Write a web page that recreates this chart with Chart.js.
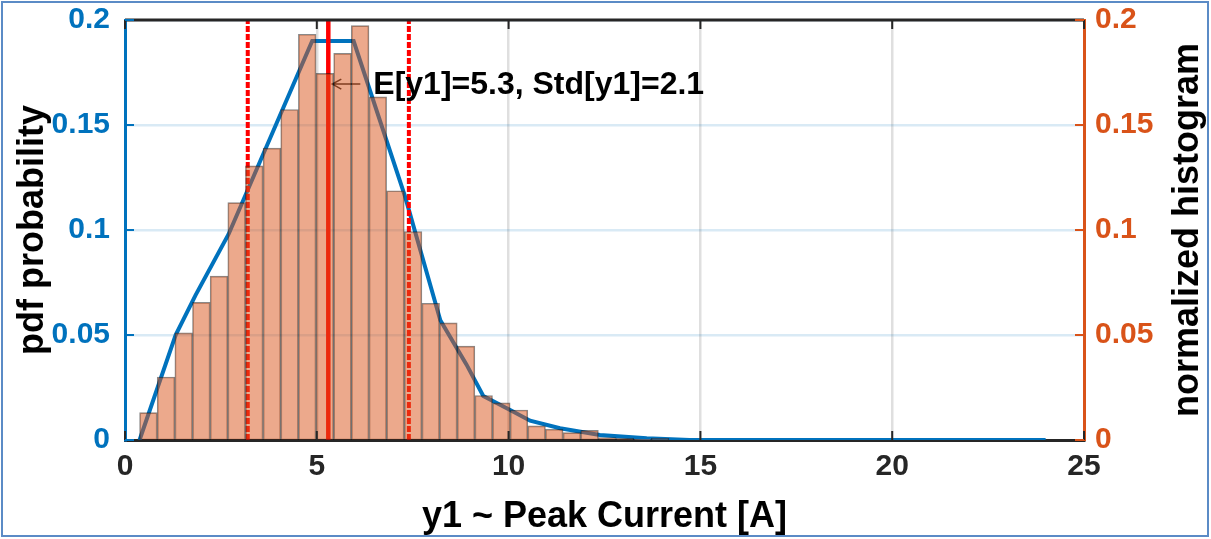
<!DOCTYPE html>
<html>
<head>
<meta charset="utf-8">
<script src="https://cdn.jsdelivr.net/npm/chart.js@4.4.1/dist/chart.umd.min.js"></script>
<style>
  html, body { margin: 0; padding: 0; background: #ffffff; }
  canvas { display: block; }
</style>
</head>
<body>
<canvas id="chart" width="1211" height="539"></canvas>
<script>
// Estimated probability density of the peak current (piecewise-linear curve)
const pdfX = [0.38, 1.32, 1.84, 2.70, 4.88, 5.96, 7.30, 8.22, 8.90, 9.34, 10.04, 10.56, 11.34, 12.38, 13.60, 14.72, 24.0];
const pdfY = [0, 0.050, 0.069, 0.098, 0.190, 0.190, 0.116, 0.057, 0.036, 0.021, 0.0143, 0.0092, 0.0056, 0.0024, 0.0008, 0, 0];

// Normalized histogram of the sampled peak currents (bin centres and heights)
const binCenters = [0.61, 1.07, 1.53, 1.99, 2.45, 2.91, 3.37, 3.83, 4.29, 4.75,
                    5.21, 5.67, 6.13, 6.59, 7.05, 7.51, 7.97, 8.43, 8.89, 9.35,
                    9.81, 10.27, 10.73, 11.19, 11.65, 12.11, 12.57, 13.03, 13.49, 13.95];
const histValues = [0.013, 0.030, 0.051, 0.0655, 0.078, 0.113, 0.1305, 0.139, 0.1574, 0.1932,
                    0.1746, 0.1841, 0.1973, 0.1634, 0.1187, 0.0993, 0.0651, 0.0558, 0.0447, 0.0212,
                    0.0177, 0.0143, 0.0067, 0.0051, 0.0035, 0.0046, 0.0011, 0.0008, 0.0003, 0.0008];

// Sample statistics
const meanY1 = 5.3;
const stdY1 = 2.1;

// Axis ticks and titles
const xTicks = [0, 5, 10, 15, 20, 25];
const yTicks = [0, 0.05, 0.1, 0.15, 0.2];
const xTitle = 'y1 ~ Peak Current [A]';
const yLeftTitle = 'pdf probability';
const yRightTitle = 'normalized histogram';

const BLUE = '#0072BD';
const ORANGE = '#D95319';
const DARK = '#262626';
const FONT = '"Liberation Sans", Arial, Helvetica, sans-serif';
const TICK_SIZE = 30;
const TITLE_SIZE = 36;

const pdfPoints = pdfX.map((x, i) => ({ x: x, y: pdfY[i] }));
const histPoints = binCenters.map((x, i) => ({ x: x, y: histValues[i] }));
const vline = v => [{ x: v, y: yTicks[0] }, { x: v, y: yTicks[yTicks.length - 1] }];
const shortNum = v => String(parseFloat(Number(v).toFixed(2)));

// Frame, box edge, inward ticks, annotation and axis titles
const decorations = {
  id: 'decorations',
  beforeDraw(chart) {
    const ctx = chart.ctx;
    ctx.save();
    ctx.fillStyle = '#ffffff';
    ctx.fillRect(0, 0, chart.width, chart.height);
    ctx.strokeStyle = '#5b8bc6';
    ctx.lineWidth = 2;
    ctx.strokeRect(2, 2, chart.width - 5, chart.height - 5);
    ctx.restore();
  },
  beforeDatasetsDraw(chart) {
    // annotation arrow pointing at the mean line
    const ctx = chart.ctx;
    const xs = chart.scales.x, ys = chart.scales.y;
    const tipX = xs.getPixelForValue(meanY1) + 4;
    const yA = ys.getPixelForValue(0.1695);
    ctx.save();
    ctx.strokeStyle = DARK;
    ctx.lineWidth = 1.5;
    ctx.beginPath();
    ctx.moveTo(tipX + 28, yA);
    ctx.lineTo(tipX, yA);
    ctx.moveTo(tipX + 9, yA - 5);
    ctx.lineTo(tipX, yA);
    ctx.lineTo(tipX + 9, yA + 5);
    ctx.stroke();
    ctx.restore();
  },
  afterDatasetsDraw(chart) {
    const ctx = chart.ctx;
    const a = chart.chartArea;
    const xs = chart.scales.x, ys = chart.scales.y, ys2 = chart.scales.y2;
    ctx.save();
    // top edge of the box
    ctx.strokeStyle = DARK;
    ctx.lineWidth = 3;
    ctx.beginPath();
    ctx.moveTo(a.left, a.top);
    ctx.lineTo(a.right, a.top);
    ctx.stroke();
    // x ticks, inward at top and bottom
    ctx.lineWidth = 2;
    xTicks.forEach(v => {
      const px = xs.getPixelForValue(v);
      ctx.beginPath();
      ctx.moveTo(px, a.top); ctx.lineTo(px, a.top + 9);
      ctx.moveTo(px, a.bottom); ctx.lineTo(px, a.bottom - 9);
      ctx.stroke();
    });
    // y ticks, inward
    yTicks.forEach(v => {
      ctx.strokeStyle = BLUE;
      const py = ys.getPixelForValue(v);
      ctx.beginPath(); ctx.moveTo(a.left, py); ctx.lineTo(a.left + 9, py); ctx.stroke();
      ctx.strokeStyle = ORANGE;
      const py2 = ys2.getPixelForValue(v);
      ctx.beginPath(); ctx.moveTo(a.right, py2); ctx.lineTo(a.right - 9, py2); ctx.stroke();
    });
    // annotation text
    const tipX = xs.getPixelForValue(meanY1) + 4;
    const yA = ys.getPixelForValue(0.1695);
    ctx.fillStyle = '#000000';
    ctx.font = 'bold 32px ' + FONT;
    ctx.textAlign = 'left';
    ctx.textBaseline = 'middle';
    ctx.fillText('E[y1]=' + meanY1.toFixed(1) + ', Std[y1]=' + stdY1.toFixed(1), tipX + 41, yA + 1);
    ctx.restore();
  },
  afterDraw(chart) {
    const ctx = chart.ctx;
    const a = chart.chartArea;
    const midY = (a.top + a.bottom) / 2;
    ctx.save();
    ctx.fillStyle = '#000000';
    ctx.font = 'bold ' + TITLE_SIZE + 'px ' + FONT;
    ctx.textAlign = 'center';
    ctx.textBaseline = 'middle';
    ctx.fillText(xTitle, (a.left + a.right) / 2, 517);
    ctx.save();
    ctx.translate(33, midY);
    ctx.rotate(-Math.PI / 2);
    ctx.fillText(yLeftTitle, 0, 0);
    ctx.restore();
    ctx.save();
    ctx.translate(1188, midY);
    ctx.rotate(-Math.PI / 2);
    ctx.fillText(yRightTitle, 0, 0);
    ctx.restore();
    ctx.restore();
  }
};

const tickFont = { family: FONT, size: TICK_SIZE, weight: 'bold' };

new Chart(document.getElementById('chart'), {
  type: 'bar',
  data: {
    datasets: [
      {
        type: 'bar',
        label: 'histogram',
        data: histPoints,
        xAxisID: 'x',
        yAxisID: 'y2',
        backgroundColor: 'rgba(217,83,25,0.5)',
        borderColor: 'rgba(20,20,20,0.5)',
        borderWidth: 1,
        borderSkipped: false,
        barPercentage: 1,
        categoryPercentage: 1,
        grouped: false,
        order: 1
      },
      {
        type: 'line',
        label: 'mean',
        data: vline(meanY1),
        yAxisID: 'y',
        borderColor: '#ff0000',
        borderWidth: 4.5,
        pointRadius: 0,
        order: 2
      },
      {
        type: 'line',
        label: 'mean - std',
        data: vline(meanY1 - stdY1),
        yAxisID: 'y',
        borderColor: '#ff0000',
        borderWidth: 4,
        borderDash: [6, 2],
        pointRadius: 0,
        order: 2
      },
      {
        type: 'line',
        label: 'mean + std',
        data: vline(meanY1 + stdY1),
        yAxisID: 'y',
        borderColor: '#ff0000',
        borderWidth: 4,
        borderDash: [6, 2],
        pointRadius: 0,
        order: 2
      },
      {
        type: 'line',
        label: 'pdf',
        data: pdfPoints,
        yAxisID: 'y',
        borderColor: BLUE,
        borderWidth: 4,
        pointRadius: 0,
        tension: 0,
        order: 3
      }
    ]
  },
  options: {
    responsive: false,
    animation: false,
    events: [],
    layout: { padding: { top: 20, left: 0, right: 0, bottom: 0 } },
    plugins: { legend: { display: false }, tooltip: { enabled: false } },
    scales: {
      x: {
        type: 'linear',
        position: 'bottom',
        min: 0,
        max: 25,
        offset: false,
        afterBuildTicks: s => { s.ticks = xTicks.map(v => ({ value: v })); },
        afterFit: s => { s.height = 99; s.paddingLeft = 0; s.paddingRight = 0; },
        grid: { offset: false, drawTicks: false, color: 'rgba(38,38,38,0.15)', lineWidth: 2.5 },
        border: { color: DARK, width: 3 },
        ticks: { color: DARK, padding: 9, maxRotation: 0, font: tickFont, callback: v => shortNum(v) }
      },
      y: {
        type: 'linear',
        position: 'left',
        min: 0,
        max: 0.2,
        afterBuildTicks: s => { s.ticks = yTicks.map(v => ({ value: v })); },
        afterFit: s => { s.width = 125; s.paddingTop = 0; s.paddingBottom = 0; },
        grid: { drawTicks: false, color: 'rgba(0,114,189,0.15)', lineWidth: 2.5 },
        border: { color: BLUE, width: 3 },
        ticks: { color: BLUE, padding: 15, font: tickFont, callback: v => shortNum(v) }
      },
      y2: {
        type: 'linear',
        position: 'right',
        min: 0,
        max: 0.2,
        afterBuildTicks: s => { s.ticks = yTicks.map(v => ({ value: v })); },
        afterFit: s => { s.width = 127; s.paddingTop = 0; s.paddingBottom = 0; },
        grid: { display: false, drawTicks: false },
        border: { color: ORANGE, width: 3 },
        ticks: { color: ORANGE, padding: 11, font: tickFont, callback: v => shortNum(v) }
      }
    }
  },
  plugins: [decorations]
});
</script>
</body>
</html>
